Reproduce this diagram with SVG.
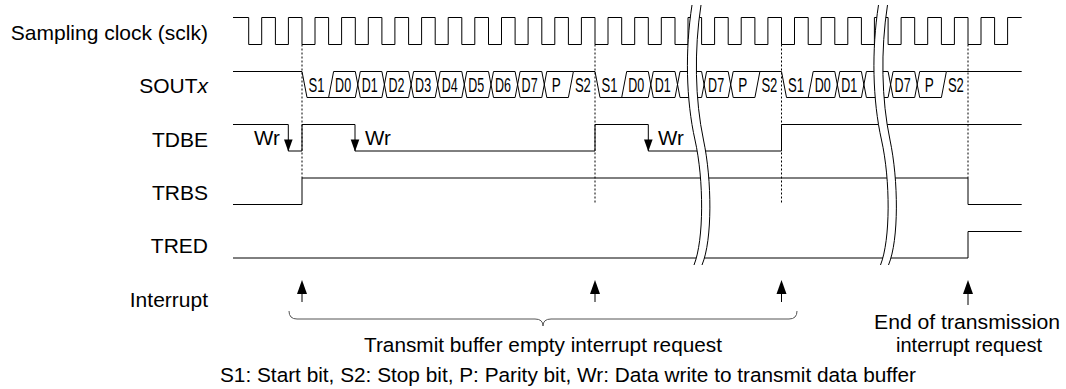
<svg xmlns="http://www.w3.org/2000/svg" width="1066" height="389" viewBox="0 0 1066 389">
<style>
.lbl{font-family:"Liberation Sans",Arial,sans-serif;font-size:21px;fill:#000;text-anchor:end}
.cell{font-family:"Liberation Sans",Arial,sans-serif;font-size:21px;fill:#000;text-anchor:middle}
.txt{font-family:"Liberation Sans",Arial,sans-serif;font-size:20.5px;fill:#000}
.sig{fill:none;stroke:#000;stroke-width:1}
.dash{fill:none;stroke:#000;stroke-width:1;stroke-dasharray:2 2}
.brk{fill:none;stroke:#000;stroke-width:1}
</style>
<defs>
<g id="brkshape">
<path d="M692,5 C685,50 686,100 695,140 C704,180 704,240 694,265 L702,265 C712.5,240 712,180 703.5,140 C695,100 694,50 701,5 Z" fill="#fff" stroke="none"/>
<path class="brk" d="M692,5 C685,50 686,100 695,140 C704,180 704,240 694,265"/>
<path class="brk" d="M701,5 C694,50 695,100 703.5,140 C712,180 712.5,240 702,265"/>
</g>
</defs>

<g id="labels">
<text class="lbl" x="208" y="40">Sampling clock (sclk)</text>
<text class="lbl" x="208" y="93">SOUT<tspan font-style="italic">x</tspan></text>
<text class="lbl" x="208" y="146.5">TDBE</text>
<text class="lbl" x="208" y="200">TRBS</text>
<text class="lbl" x="208" y="253">TRED</text>
<text class="lbl" x="208" y="306.5">Interrupt</text>
</g>

<g id="connectors">
<path class="dash" d="M302,44.5 V178 M595,44.5 V203 M781.5,44.5 V203 M968,44.5 V178"/>
</g>

<g id="sclk">
<path class="sig" d="M233,17.5 H248.7 V44.5 H261.7 V17.5 H275.4 V44.5 H288.4 V17.5 H302 V44.5 H315 V17.5 H328.6 V44.5 H341.6 V17.5 H355.3 V44.5 H368.3 V17.5 H381.9 V44.5 H394.9 V17.5 H408.6 V44.5 H421.6 V17.5 H435.2 V44.5 H448.2 V17.5 H461.8 V44.5 H474.8 V17.5 H488.5 V44.5 H501.5 V17.5 H515.1 V44.5 H528.1 V17.5 H541.8 V44.5 H554.8 V17.5 H568.4 V44.5 H581.4 V17.5 H595 V44.5 H608 V17.5 H621.7 V44.5 H634.7 V17.5 H648.3 V44.5 H661.3 V17.5 H675 V44.5 H688 V17.5 H701.6 V44.5 H714.6 V17.5 H728.2 V44.5 H741.2 V17.5 H754.9 V44.5 H767.9 V17.5 H781.5 V44.5 H794.5 V17.5 H808.2 V44.5 H821.2 V17.5 H834.8 V44.5 H847.8 V17.5 H861.4 V44.5 H874.4 V17.5 H888.1 V44.5 H901.1 V17.5 H914.7 V44.5 H927.7 V17.5 H941.4 V44.5 H954.4 V17.5 H968 V44.5 H981 V17.5 H994.6 V44.5 H1007.6 V17.5 H1021.7"/>
</g>

<g id="soutx">
<path class="sig" d="M233,71.5 H302 L307,97.5 H355.3 L360.3,71.5 H381.9 L386.9,97.5 H408.6 L413.6,71.5 H435.2 L440.2,97.5 H461.8 L466.8,71.5 H488.5 L493.5,97.5 H515.1 L520.1,71.5 H541.8 L546.8,97.5 H568.4 L573.4,71.5 H595 L600,97.5 H648.3 L653.3,71.5 H675 L680,97.5 H701.6 L706.6,71.5 H728.2 L733.2,97.5 H754.9 L759.9,71.5 H781.5 L786.5,97.5 H834.8 L839.8,71.5 H861.4 L866.4,97.5 H888.1 L893.1,71.5 H914.7 L919.7,97.5 H941.4 L946.4,71.5 H1021.7"/>
<path class="sig" d="M328.6,97.5 L333.6,71.5 H355.3 L360.3,97.5 H381.9 L386.9,71.5 H408.6 L413.6,97.5 H435.2 L440.2,71.5 H461.8 L466.8,97.5 H488.5 L493.5,71.5 H515.1 L520.1,97.5 H541.8 L546.8,71.5 H573.4"/>
<path class="sig" d="M621.7,97.5 L626.7,71.5 H648.3 L653.3,97.5 H675 L680,71.5 H701.6 L706.6,97.5 H728.2 L733.2,71.5 H759.9"/>
<path class="sig" d="M808.2,97.5 L813.2,71.5 H834.8 L839.8,97.5 H861.4 L866.4,71.5 H888.1 L893.1,97.5 H914.7 L919.7,71.5 H946.4"/>
<text class="cell" x="316.5" y="91.5" textLength="16" lengthAdjust="spacingAndGlyphs">S1</text>
<text class="cell" x="343.1" y="91.5" textLength="16" lengthAdjust="spacingAndGlyphs">D0</text>
<text class="cell" x="369.8" y="91.5" textLength="16" lengthAdjust="spacingAndGlyphs">D1</text>
<text class="cell" x="396.4" y="91.5" textLength="16" lengthAdjust="spacingAndGlyphs">D2</text>
<text class="cell" x="423.1" y="91.5" textLength="16" lengthAdjust="spacingAndGlyphs">D3</text>
<text class="cell" x="449.7" y="91.5" textLength="16" lengthAdjust="spacingAndGlyphs">D4</text>
<text class="cell" x="476.3" y="91.5" textLength="16" lengthAdjust="spacingAndGlyphs">D5</text>
<text class="cell" x="503" y="91.5" textLength="16" lengthAdjust="spacingAndGlyphs">D6</text>
<text class="cell" x="529.6" y="91.5" textLength="16" lengthAdjust="spacingAndGlyphs">D7</text>
<text class="cell" x="556.3" y="91.5" textLength="9" lengthAdjust="spacingAndGlyphs">P</text>
<text class="cell" x="582.9" y="91.5" textLength="16" lengthAdjust="spacingAndGlyphs">S2</text>
<text class="cell" x="609.5" y="91.5" textLength="16" lengthAdjust="spacingAndGlyphs">S1</text>
<text class="cell" x="636.2" y="91.5" textLength="16" lengthAdjust="spacingAndGlyphs">D0</text>
<text class="cell" x="662.8" y="91.5" textLength="16" lengthAdjust="spacingAndGlyphs">D1</text>
<text class="cell" x="716.1" y="91.5" textLength="16" lengthAdjust="spacingAndGlyphs">D7</text>
<text class="cell" x="742.7" y="91.5" textLength="9" lengthAdjust="spacingAndGlyphs">P</text>
<text class="cell" x="769.4" y="91.5" textLength="16" lengthAdjust="spacingAndGlyphs">S2</text>
<text class="cell" x="796" y="91.5" textLength="16" lengthAdjust="spacingAndGlyphs">S1</text>
<text class="cell" x="822.7" y="91.5" textLength="16" lengthAdjust="spacingAndGlyphs">D0</text>
<text class="cell" x="849.3" y="91.5" textLength="16" lengthAdjust="spacingAndGlyphs">D1</text>
<text class="cell" x="902.6" y="91.5" textLength="16" lengthAdjust="spacingAndGlyphs">D7</text>
<text class="cell" x="929.2" y="91.5" textLength="9" lengthAdjust="spacingAndGlyphs">P</text>
<text class="cell" x="955.9" y="91.5" textLength="16" lengthAdjust="spacingAndGlyphs">S2</text>
</g>

<g id="tdbe">
<path class="sig" d="M233,124.5 H288.3 V151 H302 V124.5 H355 V151 H595 V124.5 H648.3 V151 H781.5 V124.5 H1021.7"/>
<polygon points="284,139.5 292.6,139.5 288.3,151.5" fill="#000"/>
<polygon points="350.7,139.5 359.3,139.5 355,151.5" fill="#000"/>
<polygon points="644,139.5 652.6,139.5 648.3,151.5" fill="#000"/>
<text class="txt" x="254" y="145" font-size="20">Wr</text>
<text class="txt" x="365" y="145" font-size="20">Wr</text>
<text class="txt" x="658" y="145" font-size="20">Wr</text>
</g>

<g id="trbs">
<path class="sig" d="M233,204.5 H302 V178 H968 V204.5 H1021.7"/>
</g>

<g id="tred">
<path class="sig" d="M233,258 H968 V231.5 H1021.7"/>
</g>

<g id="breaks">
<use href="#brkshape"/>
<use href="#brkshape" transform="translate(186.5,0)"/>
</g>

<g id="interrupts">
<path class="sig" d="M302,292 V302 M595,292 V302 M781.5,292 V302 M968,292 V305"/>
<polygon points="297,294 307,294 302,280" fill="#000"/>
<polygon points="590,294 600,294 595,280" fill="#000"/>
<polygon points="776.5,294 786.5,294 781.5,280" fill="#000"/>
<polygon points="963,294 973,294 968,280" fill="#000"/>
<path d="M289,311 Q289,319 297,319 H535 Q543,319 543,326 Q543,319 551,319 H789 Q797,319 797,311" fill="none" stroke="#555" stroke-width="1"/>
<text class="txt" x="543" y="352" text-anchor="middle" textLength="358" lengthAdjust="spacingAndGlyphs">Transmit buffer empty interrupt request</text>
<text class="txt" x="967" y="329" text-anchor="middle" textLength="186" lengthAdjust="spacingAndGlyphs">End of transmission</text>
<text class="txt" x="969" y="352" text-anchor="middle" textLength="146" lengthAdjust="spacingAndGlyphs">interrupt request</text>
<text class="txt" x="220" y="382" textLength="696" lengthAdjust="spacingAndGlyphs">S1: Start bit, S2: Stop bit, P: Parity bit, Wr: Data write to transmit data buffer</text>
</g>
</svg>
